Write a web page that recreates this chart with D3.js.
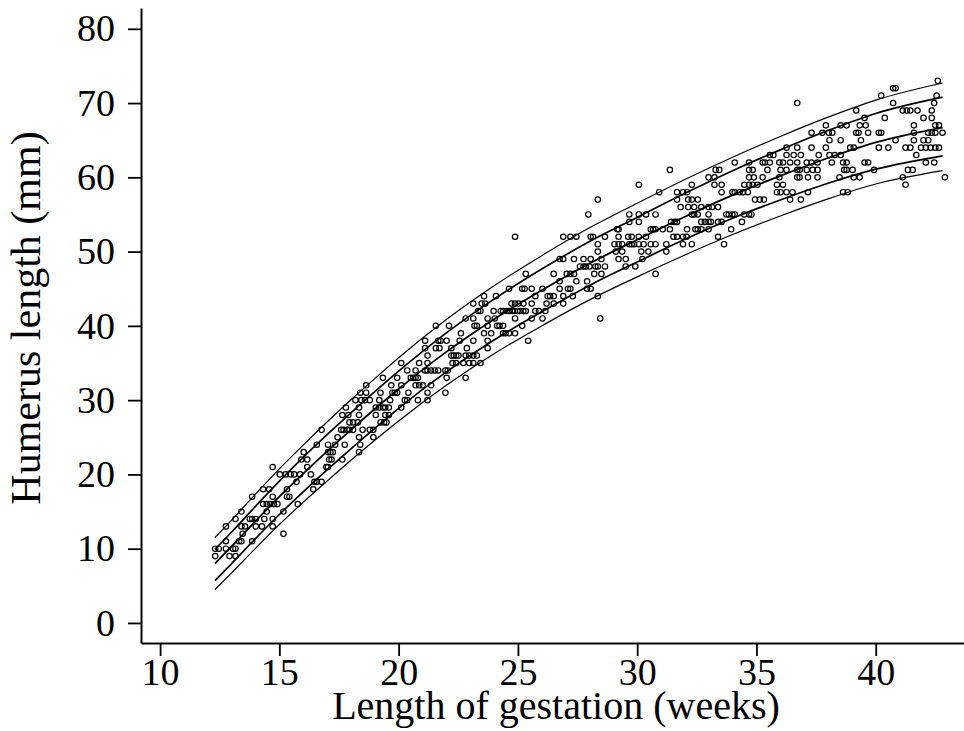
<!DOCTYPE html>
<html>
<head>
<meta charset="utf-8">
<script src="https://cdn.jsdelivr.net/npm/d3@7"></script>
<style>
body { margin: 0; background: #fff; }
svg { display: block; background: #fff; }
text { font-family: 'Liberation Serif', 'Times New Roman', serif; fill: #000; }
</style>
</head>
<body>
<svg id="chart" width="964" height="731"></svg>
<script>
var xTicks = [10, 15, 20, 25, 30, 35, 40]
var yTicks = [0, 10, 20, 30, 40, 50, 60, 70, 80]

// centile curves
var curveWeeks = [12.3, 13, 14, 15, 16, 17, 18, 19, 20, 22, 24, 26, 28, 30, 32, 34, 36, 38, 40, 42.8]
var p97 = [11.5, 13.85, 17.35, 20.75, 23.95, 27.05, 30.05, 32.9, 35.7, 40.85, 45.4, 49.45, 53.2, 56.5, 59.7, 62.7, 65.5, 68.1, 70.4, 72.7]
var p90 = [9.9, 12.25, 15.7, 19.1, 22.3, 25.35, 28.3, 31.15, 33.9, 39.05, 43.6, 47.65, 51.35, 54.6, 57.85, 60.9, 63.7, 66.3, 68.6, 70.8]
var p50 = [8.0, 10.3, 13.7, 17.0, 20.1, 23.1, 26.0, 28.8, 31.5, 36.5, 40.9, 44.8, 48.4, 51.6, 54.7, 57.6, 60.2, 62.6, 64.7, 66.7]
var p10 = [5.7, 8.0, 11.35, 14.6, 17.65, 20.6, 23.45, 26.2, 28.9, 33.8, 38.1, 41.9, 45.45, 48.6, 51.65, 54.5, 56.95, 59.2, 61.1, 62.9]
var p3 = [4.5, 6.75, 10.05, 13.25, 16.25, 19.1, 21.9, 24.6, 27.2, 32.0, 36.25, 40.0, 43.5, 46.6, 49.55, 52.3, 54.8, 57.1, 59.1, 60.9]

// observations: humerus length (mm) and the gestation weeks where it was seen
var obsRows = [
  [9, [12.31, 12.91, 13.16]],
  [10, [12.31, 12.46, 12.76, 13.06, 13.16]],
  [11, [12.76, 13.31, 13.41, 13.86]],
  [12, [13.46, 15.17]],
  [13, [12.76, 13.41, 13.56, 14.01, 14.27, 14.72]],
  [14, [13.16, 13.76, 13.86, 14.01, 14.37, 14.72]],
  [15, [13.41, 14.47, 15.17]],
  [16, [14.32, 14.47, 14.62, 14.77, 14.92, 15.77]],
  [17, [13.86, 14.72, 15.32, 15.42]],
  [18, [14.32, 14.57, 15.32, 16.42]],
  [19, [15.72, 16.47, 16.57, 16.77]],
  [20, [15.02, 15.27, 15.47, 15.62, 15.87, 16.32]],
  [21, [14.72, 16.17, 16.97, 17.04]],
  [22, [15.92, 16.17, 17.09, 17.19, 17.64]],
  [23, [16.02, 17.04, 17.14, 17.24, 18.34]],
  [24, [16.57, 17.04, 17.34, 17.74, 18.39]],
  [25, [17.44, 18.34, 18.94]],
  [26, [16.77, 17.59, 17.69, 17.84, 17.94, 18.09, 18.49, 18.79, 18.94]],
  [27, [17.94, 18.09, 18.29, 19.24, 19.39, 19.49]],
  [28, [17.64, 17.89, 18.34, 19.04, 19.44, 19.59]],
  [29, [17.79, 18.34, 19.04, 19.19, 19.34, 19.44, 19.59, 20.11]],
  [30, [18.19, 18.44, 18.59, 18.79, 19.19, 19.64, 20.26, 20.36, 20.81, 21.21]],
  [31, [18.39, 18.64, 19.24, 19.74, 19.84, 19.94, 20.41, 21.21, 21.96]],
  [32, [18.64, 19.69, 20.11, 20.71, 20.86, 21.01, 21.36]],
  [33, [19.34, 19.94, 20.51, 20.61, 20.71, 20.81, 22.01, 22.81]],
  [34, [20.36, 20.71, 21.11, 21.21, 21.36, 21.51, 21.66, 21.96, 22.06]],
  [35, [20.11, 20.86, 21.21, 22.26, 22.41, 22.71, 22.96, 23.13, 23.43]],
  [36, [21.21, 22.21, 22.31, 22.41, 22.51, 22.81, 22.96, 23.13, 23.28]],
  [37, [21.11, 21.56, 21.71, 22.21, 22.86, 23.73]],
  [38, [21.11, 21.66, 21.76, 22.01, 22.56, 23.13, 23.73, 25.43]],
  [39, [22.61, 23.58, 23.88, 24.38, 24.48, 24.63, 24.88]],
  [40, [21.56, 22.11, 23.18, 23.28, 23.73, 24.13, 24.23, 24.38, 25.18]],
  [41, [22.81, 23.13, 23.73, 24.03, 24.88, 25.58, 26.03, 28.45]],
  [42, [23.33, 23.43, 23.98, 24.28, 24.38, 24.53, 24.63, 24.78, 24.88, 24.98, 25.08, 25.23, 25.33, 25.73, 25.88, 26.15]],
  [43, [23.13, 23.48, 23.63, 24.73, 24.88, 25.03, 25.23, 25.58, 26.2, 26.5, 26.9]],
  [44, [23.58, 24.08, 25.73, 26.25, 26.35, 26.5, 26.9, 27.3, 28.35]],
  [45, [24.63, 25.18, 25.28, 25.58, 26.03, 26.75, 27.1, 27.2, 27.9, 28.05]],
  [46, [26.75, 27.45, 27.9]],
  [47, [25.33, 26.5, 27.05, 27.2, 27.35, 28.2, 28.5, 30.77]],
  [48, [27.6, 27.75, 27.85, 28.0, 28.25, 28.35, 28.65, 29.52, 29.92]],
  [49, [26.75, 26.9, 27.35, 27.75, 28.05, 28.5, 29.22, 29.52, 30.22]],
  [50, [28.35, 29.1, 29.37, 30.17, 30.47, 31.22]],
  [51, [28.35, 29.05, 29.22, 29.37, 29.67, 29.77, 29.87, 30.07, 30.27, 30.57, 30.77, 31.22, 31.92, 32.29, 33.64]],
  [52, [24.88, 26.9, 27.2, 27.45, 28.05, 28.15, 28.65, 29.22, 29.62, 29.77, 30.07, 30.37, 31.52, 31.67, 31.92, 32.07, 33.39]],
  [53, [29.17, 29.22, 30.57, 30.67, 30.77, 31.07, 31.37, 32.09, 32.44, 32.54, 32.69, 32.99, 33.94]],
  [54, [29.67, 30.07, 31.42, 31.57, 31.67, 32.69, 32.84, 32.99, 33.09, 33.39, 33.54, 34.39]],
  [55, [27.95, 29.67, 30.07, 30.37, 30.77, 32.29, 32.39, 32.54, 32.99, 33.74, 33.84, 33.99, 34.09, 34.49, 34.69, 34.79]],
  [56, [31.82, 32.14, 32.39, 32.69, 32.99, 33.14, 33.39]],
  [57, [28.35, 31.67, 32.14, 32.29, 32.54, 34.94, 35.14, 35.31, 36.41, 36.86]],
  [58, [30.92, 31.67, 31.92, 32.09, 33.54, 33.99, 34.09, 34.29, 34.44, 34.64, 35.86, 36.01, 36.26, 36.51, 37.16, 38.63, 38.83]],
  [59, [30.07, 32.29, 33.24, 33.54, 34.49, 34.69, 34.84, 35.04, 35.86, 36.11, 41.25]],
  [60, [32.99, 33.24, 34.69, 34.89, 35.26, 35.96, 36.71, 36.81, 37.16, 37.56, 38.48, 39.08, 39.33, 41.13, 42.9]],
  [61, [31.37, 33.29, 33.44, 34.69, 34.84, 35.46, 36.01, 36.26, 36.71, 36.81, 37.11, 37.36, 37.56, 38.68, 38.78, 39.03, 39.93, 41.35, 41.55]],
  [62, [34.09, 34.69, 35.26, 35.36, 35.56, 35.96, 36.11, 36.41, 36.71, 37.11, 37.31, 37.56, 38.16, 38.63, 38.78, 39.53, 39.68, 42.1, 42.45]],
  [63, [35.56, 35.71, 36.26, 36.56, 36.86, 37.61, 38.06, 38.28, 38.53, 41.7]],
  [64, [36.26, 36.71, 37.31, 37.91, 38.93, 39.08, 40.13, 40.53, 41.25, 41.45, 41.9, 42.1, 42.3, 42.5, 42.65]],
  [65, [38.06, 38.53, 39.38, 40.83, 41.6, 42.0, 42.2]],
  [66, [37.31, 37.76, 38.03, 38.18, 39.18, 39.28, 39.68, 40.13, 40.23, 41.6, 42.2, 42.35, 42.5, 42.8]],
  [67, [37.91, 38.53, 38.78, 39.33, 39.58, 41.6, 42.5, 42.65]],
  [68, [39.53, 40.38, 42.0, 42.35]],
  [69, [39.18, 41.13, 41.3, 41.45, 41.75, 42.35]],
  [70, [36.71, 40.73, 42.45]],
  [71, [40.23, 42.55]],
  [72, [40.73, 40.83]],
  [73, [42.6]]
]

var svg = d3.select('#chart')
var x = d3.scaleLinear().domain([9.2, 43.7]).range([141, 964])
var y = d3.scaleLinear().domain([-2.7, 82.8]).range([643, 8])

var points = []
obsRows.forEach(function (r) {
  r[1].forEach(function (w) { points.push({ week: w, mm: r[0] }) })
})

// centile lines
var line = d3.line()
  .x(function (d) { return x(d[0]) })
  .y(function (d) { return y(d[1]) })
  .curve(d3.curveMonotoneX)

var curves = [
  { vals: p97, w: 1.2 },
  { vals: p90, w: 1.7 },
  { vals: p50, w: 1.8 },
  { vals: p10, w: 1.7 },
  { vals: p3, w: 1.2 }
]

svg.selectAll('.centile')
  .data(curves)
  .enter()
  .append('path')
  .attr('class', 'centile')
  .attr('fill', 'none')
  .attr('stroke', '#000')
  .attr('stroke-width', function (d) { return d.w })
  .attr('d', function (d) {
    return line(curveWeeks.map(function (wk, i) { return [wk, d.vals[i]] }))
  })

svg.selectAll('.obs')
  .data(points)
  .enter()
  .append('circle')
  .attr('class', 'obs')
  .attr('cx', function (d) { return x(d.week) })
  .attr('cy', function (d) { return y(d.mm) })
  .attr('r', 2.7)
  .attr('fill', 'none')
  .attr('stroke', '#000')
  .attr('stroke-width', 1.2)

// axes
svg.append('g')
  .attr('transform', 'translate(0,643)')
  .call(d3.axisBottom(x).tickValues(xTicks).tickSize(13).tickSizeOuter(0).tickPadding(2))
svg.append('g')
  .attr('transform', 'translate(141,0)')
  .call(d3.axisLeft(y).tickValues(yTicks).tickSize(13).tickSizeOuter(0).tickPadding(13))

svg.selectAll('.domain').attr('stroke', '#000').attr('stroke-width', 2)
svg.selectAll('.tick line').attr('stroke', '#000').attr('stroke-width', 1.8)
svg.selectAll('.tick text')
  .attr('font-family', "'Liberation Serif', serif")
  .attr('font-size', 38)
  .attr('fill', '#000')

svg.append('text')
  .attr('x', 556)
  .attr('y', 719)
  .attr('text-anchor', 'middle')
  .attr('font-size', 40)
  .text('Length of gestation (weeks)')

svg.append('text')
  .attr('transform', 'translate(40,318) rotate(-90)')
  .attr('text-anchor', 'middle')
  .attr('font-size', 42)
  .text('Humerus length (mm)')
</script>
</body>
</html>
